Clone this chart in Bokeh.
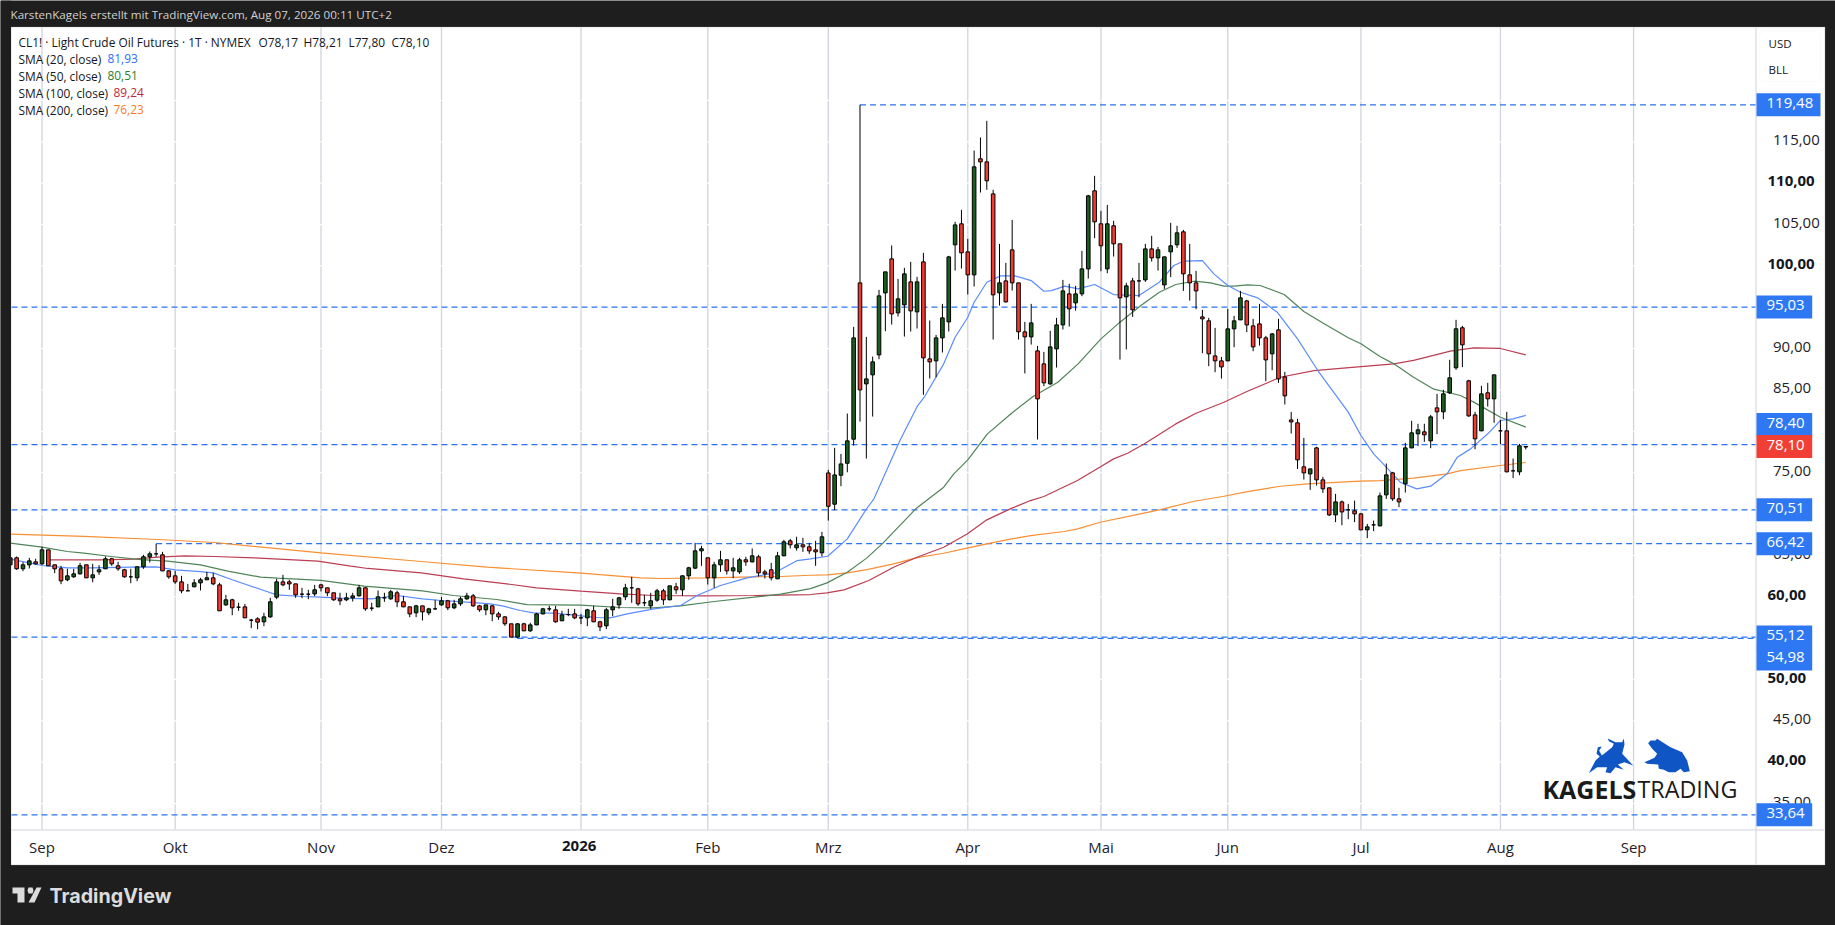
from bokeh.plotting import figure
from bokeh.models import (LinearAxis, FixedTicker, Label, BoxAnnotation, PolyAnnotation,
                          ColumnDataSource)
from bokeh.embed import file_html
from bokeh.resources import INLINE

# ---------- DATA ----------
bar_index = list(range(-5, 235))
opens = [63.86,64.71,63.38,63.86,64.22,63.98,65.67,63.86,63.38,62.05,62.41,62.77,63.86,62.29,63.01,63.38,64.59,63.74,63.26,62.41,
 62.29,63.62,64.83,65.19,65.07,63.13,62.53,61.80,60.72,61.20,61.68,62.05,62.29,61.44,59.02,59.63,58.74,58.78,57.17,57.33,
 56.97,57.57,59.95,61.80,61.80,61.56,60.31,60.31,60.35,61.44,61.08,60.48,59.75,59.63,59.87,60.11,61.08,58.62,58.78,59.87,
 59.75,60.48,59.39,58.78,58.06,58.90,58.06,58.54,59.02,59.51,58.66,59.14,59.75,60.11,58.90,58.42,58.90,57.93,57.57,56.73,
 55.12,56.73,55.88,56.60,57.93,58.54,58.42,57.09,57.85,57.93,57.45,57.45,58.30,56.97,56.48,58.42,59.02,59.99,61.08,60.96,
 59.27,58.90,59.59,60.72,59.63,61.20,60.84,62.53,63.46,65.55,64.71,62.29,63.86,64.47,63.13,63.01,64.47,64.22,64.83,63.01,
 63.26,62.17,64.95,66.76,65.92,66.28,66.04,65.67,65.31,
 74.97,71.19,74.69,76.14,79.05,97.95,85.74,86.83,89.24,96.74,100.85,94.32,95.29,98.07,94.44,100.49,88.76,88.52,91.30,93.23,
 102.55,105.09,101.70,98.92,112.95,112.58,108.71,96.74,98.19,101.94,97.95,92.03,91.42,89.73,88.16,85.74,89.97,92.87,96.62,95.53,
 96.62,99.64,109.08,
 105.09,99.64,104.85,102.67,96.26,98.19,98.19,98.31,102.06,100.97,97.71,101.70,102.55,104.12,98.92,97.95,93.84,93.36,89.12,88.52,
 88.52,92.39,93.48,95.77,92.75,92.99,91.30,89.37,92.27,86.58,81.38,
 81.03,75.71,74.86,78.00,74.13,73.17,69.90,71.47,70.51,70.39,70.02,68.09,68.69,68.57,72.32,74.98,71.84,73.65,78.00,79.70,
 79.94,78.85,82.84,82.36,84.66,87.68,92.52,86.11,81.99,80.06,84.66,83.93,80.06,80.06,75.22,75.10,78.17]
highs = [64.71,64.87,64.18,64.71,64.59,66.04,65.67,63.86,63.74,63.38,63.38,64.10,63.86,63.98,63.82,64.87,64.71,64.22,63.38,63.38,
 63.70,65.07,65.47,66.40,65.43,63.21,63.13,62.53,61.56,62.13,62.29,63.01,62.89,61.68,60.23,59.75,59.27,59.14,57.33,57.53,
 58.06,59.87,62.17,62.65,62.05,61.56,61.08,60.84,61.44,61.56,61.08,60.48,60.48,60.48,60.48,61.44,61.16,59.27,60.76,60.48,
 60.84,60.72,60.11,58.78,59.02,58.90,58.66,59.63,59.99,59.63,59.63,59.99,60.48,60.35,59.02,59.02,59.02,58.18,57.65,56.73,
 56.81,56.85,56.85,58.06,58.66,58.90,58.90,58.30,58.54,58.54,57.93,58.54,58.90,57.09,58.66,59.75,59.99,61.56,62.41,61.08,
 60.23,60.48,60.96,60.96,61.32,61.68,62.61,63.62,66.52,66.16,64.71,64.22,65.55,64.47,64.71,64.71,64.83,65.84,65.07,63.26,
 64.10,65.43,66.88,67.00,67.25,67.13,66.52,66.76,67.85,
 75.34,78.00,77.27,82.15,92.63,119.48,91.42,89.04,97.10,99.28,102.47,98.43,99.77,100.49,98.68,101.58,93.40,91.66,95.41,101.22,
 105.33,106.78,103.27,113.95,115.53,117.54,109.20,102.67,100.37,105.57,97.95,93.23,95.41,90.33,89.61,92.15,93.72,98.31,97.83,97.59,
 101.82,108.59,110.89,
 106.66,107.38,105.45,102.67,97.95,98.56,100.37,102.67,103.64,102.30,101.10,105.21,104.85,104.36,102.67,99.40,94.69,93.72,92.51,89.00,
 94.81,93.96,96.98,95.90,93.60,95.41,91.54,91.90,93.60,87.19,82.35,
 81.51,79.21,75.46,78.13,74.50,73.17,72.44,71.63,71.23,71.63,70.14,68.81,69.22,72.60,76.11,75.10,73.17,78.61,81.27,80.91,
 80.91,81.99,84.53,85.02,88.65,93.48,92.76,86.23,82.36,85.50,85.86,86.83,81.39,82.36,76.71,78.49,78.21]
lows = [63.86,63.26,63.09,63.42,63.86,63.86,63.74,62.85,61.52,61.88,62.29,62.69,62.25,61.76,62.65,63.34,63.74,63.13,62.29,61.64,
 61.88,63.38,64.14,64.83,63.09,62.17,61.56,60.43,60.68,61.16,60.76,62.05,61.40,58.30,58.90,57.77,58.30,57.45,56.20,56.08,
 56.44,57.45,59.71,61.28,60.84,59.87,59.83,59.71,60.07,60.64,60.07,59.51,58.98,59.47,59.43,60.03,58.30,58.30,58.74,59.39,
 59.63,58.74,58.74,57.53,57.53,57.13,57.77,58.42,58.90,58.38,58.50,58.90,59.63,58.78,58.18,57.77,57.05,57.21,56.48,55.12,
 54.98,55.84,55.76,56.56,57.85,58.26,56.85,57.09,57.65,57.29,56.69,56.44,56.93,55.84,56.08,57.65,58.54,59.59,59.27,58.90,
 58.86,58.54,59.39,59.02,59.59,60.35,60.11,62.05,63.34,63.74,61.48,61.08,63.01,62.69,62.25,62.77,63.74,64.14,62.45,62.21,
 61.97,62.13,64.91,65.84,65.59,65.43,65.19,63.74,64.87,
 69.21,70.46,73.36,75.05,78.28,81.18,76.71,81.79,88.72,92.11,92.91,93.88,91.46,92.07,92.43,84.41,86.38,86.54,89.53,92.07,
 99.44,99.68,96.54,97.51,108.87,109.20,91.10,95.21,95.57,97.02,91.10,87.00,90.49,79.01,85.46,85.62,87.71,92.31,92.67,94.60,
 96.34,98.47,103.35,
 99.36,99.12,101.13,88.68,89.89,93.84,96.22,98.07,100.53,99.44,97.22,98.64,102.18,96.98,95.81,94.77,89.45,87.87,87.15,86.38,
 88.48,90.17,93.44,91.99,89.69,90.37,86.06,87.39,85.86,83.24,79.73,
 75.46,74.17,72.92,73.45,72.56,69.74,69.02,68.65,69.38,69.02,68.05,67.08,67.93,68.53,71.84,71.59,70.83,72.60,77.96,78.21,
 78.73,77.96,79.66,81.47,84.53,87.44,87.76,81.75,77.84,80.02,83.00,81.03,78.45,75.06,74.34,74.70,77.80]
closes = [64.71,63.38,63.86,64.34,63.98,65.67,63.74,63.38,61.92,62.53,62.77,63.74,62.29,62.65,63.26,64.59,63.98,63.38,62.41,62.41,
 63.62,64.83,65.19,65.19,63.13,62.41,61.80,60.72,60.72,61.68,62.05,62.29,61.56,58.30,59.63,58.66,58.74,57.45,57.17,56.93,
 57.57,59.39,61.80,61.44,61.56,60.23,60.31,60.31,60.84,61.08,60.48,59.63,59.51,59.87,60.11,61.08,58.54,58.62,59.99,59.87,
 60.60,59.39,58.78,57.93,58.90,58.18,58.54,58.54,59.51,58.66,59.14,59.75,60.11,58.90,58.42,59.02,57.93,57.57,56.73,55.12,
 56.73,55.88,56.60,57.93,58.54,58.54,56.97,57.81,57.85,57.45,57.45,58.42,56.97,56.36,58.42,58.78,59.87,61.08,61.08,59.14,
 59.27,59.51,60.72,59.63,61.32,60.84,62.53,63.50,65.55,65.80,62.29,63.86,64.47,63.13,63.50,64.47,64.22,64.95,62.89,62.77,
 62.29,64.95,66.64,66.28,66.28,66.04,65.55,65.43,67.25,
 70.94,74.73,76.06,78.85,91.30,85.01,86.34,88.40,96.38,99.28,94.20,96.02,99.04,94.56,98.07,88.88,88.40,91.30,93.72,101.09,
 104.96,101.58,98.92,111.98,112.58,110.29,96.50,97.95,95.65,97.95,92.03,91.42,93.11,83.92,85.86,90.21,92.87,96.98,94.81,96.62,
 99.64,108.47,105.33,
 102.43,105.09,102.67,96.14,97.59,94.69,98.19,102.06,100.97,101.94,101.10,102.43,104.00,99.04,97.95,96.98,93.60,89.37,88.52,87.79,
 92.39,93.36,96.14,92.87,90.21,91.30,88.64,91.78,86.34,84.29,81.14,
 76.55,74.98,75.46,74.13,73.05,69.90,71.47,70.26,70.51,70.02,68.09,68.45,68.69,72.20,74.74,71.84,71.47,78.00,79.82,80.18,
 79.58,81.75,82.36,84.53,86.47,92.40,90.46,81.87,79.09,84.53,83.93,86.83,80.06,75.10,75.22,78.25,78.10]

sma20_x = [-5,0,4,8,14,18,21,25,27,30,35,37,41,44,47,52,56,60,63,67,70.7,72.8,75.4,77.5,80.7,85,87.5,89.6,92.3,96.5,100.7,103.3,107,111.2,115.4,119.1,121.2,123.9,127,130.1,131.2,135.3,138.1,139.2,142.2,144,146,147,149,151.2,153.4,156,158,159.2,161.3,163.4,166,169,173,176.2,178.5,180,183,184.8,187,189,191.7,194.8,198,201.2,206,208,210,212,214.2,216.8,219,221.6,223.2,225.3,228,230,232,234]
sma20 = [64.55,63.78,63.50,63.50,63.58,63.62,63.26,63.05,62.89,62.05,60.76,60.23,60.03,59.95,59.83,59.75,60.15,59.75,59.55,59.35,59.14,58.86,58.34,58.06,58.01,57.69,57.49,57.45,57.93,58.54,58.94,60.15,61.36,62.29,62.85,64.38,64.58,64.90,67.0,70.7,71.84,78.89,83.12,84.21,88.16,91.38,93.80,95.61,98.03,98.80,98.80,98.23,96.94,97.02,97.55,97.23,97.75,96.54,96.42,98.03,100.05,100.57,100.65,99.04,97.63,96.82,96.14,94.41,91.18,87.35,82.32,79.50,77.28,75.67,73.85,73.05,73.37,74.86,76.88,77.88,79.70,81.31,81.51,81.93]
sma50_x = [-5,0,4,6.6,10.9,15.6,19.8,25,29.3,34.5,37.2,44,50.8,60,64.9,71.7,76.5,85,91.2,96.5,100.7,106,112.3,116.5,121.2,123.8,127,130.1,132.5,137.8,142.2,143.8,146,148.3,149.1,153.1,156.3,160.2,163.4,167,170,173.3,176.2,178.8,181.7,184.3,186.4,188,190.1,192.1,195.9,199,202.2,206,208,211,213.2,216.3,219.5,223.7,225.8,230,234]
sma50 = [66.48,66.00,65.47,65.27,64.87,64.50,64.30,63.86,63.09,62.37,62.25,61.97,61.28,60.72,60.15,59.67,59.06,58.98,58.70,58.66,58.90,59.43,59.95,60.31,60.99,61.68,62.97,64.70,66.39,70.63,73.25,74.86,76.55,78.89,79.69,82.31,84.21,85.94,88.16,91.18,93.2,95.21,96.82,97.75,98.15,97.95,97.55,97.55,97.71,97.63,96.54,94.49,93.0,91.31,90.58,89.05,88.16,86.55,85.10,84.33,83.53,81.71,80.51]
sma100_x = [1,4,9.3,14.5,18.2,22.5,27.2,33.5,43.5,48.7,51.4,59.8,66.5,73.3,78,85,91.2,96.5,104.4,112.3,121.2,123.8,126.5,130.4,134.3,138,142.2,145.9,149,152.7,155.9,158,163.3,167,169,171.2,173.8,178.8,182,186.4,190.1,195.3,200.6,208,213.2,216.3,222.1,225.8,230,234]
sma100 = [64.47,64.47,64.47,64.55,64.79,64.95,64.87,64.71,64.30,63.70,63.42,62.89,62.17,61.56,61.08,60.68,60.35,60.15,60.11,60.15,60.27,60.47,60.83,61.96,63.57,64.78,65.99,67.60,69.30,70.63,71.63,72.12,74.05,75.74,76.67,77.35,78.48,80.90,82.19,83.52,84.85,86.54,87.35,87.83,88.16,88.57,89.69,90.10,90.02,89.24]
sma200_x = [-5,6.6,18.2,27.2,44,59.8,70.2,85,94.4,97.5,104.9,112.3,116.5,121.2,123.8,127,130.1,134.3,138,142.2,145.9,149,152.7,155.9,161.2,163.3,166.9,173.2,176.2,181.7,186.4,190.1,195.3,199.6,204.8,208,211.1,216.3,221.6,223.7,230,234]
sma200 = [67.57,67.29,66.92,66.56,65.31,64.26,63.58,62.85,62.29,62.21,62.29,62.41,62.45,62.60,62.65,62.89,63.29,63.98,64.74,65.26,65.87,66.39,66.96,67.40,67.89,68.21,69.01,70.02,70.50,71.55,72.15,72.72,73.36,73.65,73.85,73.97,74.05,74.34,74.86,75.26,75.87,76.23]

month_labels = ["Sep","Okt","Nov","Dez","Feb","Mrz","Apr","Mai","Jun","Jul","Aug","Sep"]
month_pos = [0,21,44,63,105,124,146,167,187,208,230,251]
year_label = "2026"
year_pos = 85
price_ticks_regular = [35,45,55,65,70,75,80,85,90,95,105,115,120]
price_ticks_bold = [40,50,60,100,110]
level_values = [119.48,95.03,78.40,70.51,66.42,55.12,54.98,33.64]
level_starts = [129,None,None,None,18,None,75,None]
tag_texts = ["119,48","95,03","78,40","70,51","66,42","55,12","54,98","33,64","78,10"]
tag_centres = [119.48,95.03,80.83,70.51,66.42,55.12,52.47,33.64,78.16]
tag_colors = ["#2e79f3"]*8 + ["#f23f36"]

# ---------- LAYOUT: the plot frame fills the page; scales keep the chart in place ----------
W, H = 1835, 925
PX_PER_BAR = 6.341
PX_PER_USD = 8.271
LABEL_LIFT = 0.22   # tick labels sit slightly above their grid lines
def price_fmt(v): return f"{v:.2f}".replace(".", ",")
def bar_at(px): return (px - 41.5) / PX_PER_BAR
def usd_at(py): return 119.48 - (py - 104.3) / PX_PER_USD
def lifted(v): return round(v + LABEL_LIFT, 2)

DARK = "#1e1e1e"
FONT = "Open Sans"
p = figure(width=W, height=H, x_range=(bar_at(0), bar_at(W)), y_range=(usd_at(H), usd_at(0)),
           x_axis_type=None, y_axis_type=None, toolbar_location=None, output_backend="svg",
           min_border=0, background_fill_color=DARK, border_fill_color=DARK, outline_line_color=None)

def canvas_box(l, r, t, b, **kw):
    kw.setdefault("level", "underlay")
    kw.setdefault("line_color", None)
    return BoxAnnotation(left=l, right=r, top=t, bottom=b, left_units="canvas", right_units="canvas",
                         top_units="canvas", bottom_units="canvas", **kw)

# white panel, axis separators
p.add_layout(canvas_box(10.5, 1824.5, 26.5, 864.5, fill_color="white", fill_alpha=1, line_color="#8c8c8c", line_width=1))
p.add_layout(canvas_box(1755, 1756, 27, 864, fill_color="#d1d4dc", fill_alpha=1))
p.add_layout(canvas_box(11, 1824, 829, 830, fill_color="#d1d4dc", fill_alpha=1))

# grid lines
xg_ticks = sorted(month_pos + [year_pos])
yg_ticks = sorted(price_ticks_regular + price_ticks_bold)
p.segment(x0=xg_ticks, x1=xg_ticks, y0=[usd_at(829)]*len(xg_ticks), y1=[usd_at(27)]*len(xg_ticks),
          line_color="#d1d4dc", line_width=1.3)
p.segment(x0=[bar_at(11)]*len(yg_ticks), x1=[bar_at(1755)]*len(yg_ticks), y0=yg_ticks, y1=yg_ticks,
          line_color="#ffffff", line_width=1.2)

# axes
ax_r = LinearAxis(fixed_location=bar_at(1755.5), ticker=FixedTicker(ticks=[lifted(t) for t in price_ticks_regular]),
                  major_label_overrides={lifted(t): price_fmt(t) for t in price_ticks_regular},
                  major_tick_line_color=None, minor_tick_line_color=None, axis_line_color=None,
                  major_label_standoff=11, major_label_text_font=FONT, major_label_text_font_size="15px",
                  major_label_text_color="#1f222a")
p.add_layout(ax_r, "right")
ax_b = LinearAxis(fixed_location=usd_at(829.5), ticker=FixedTicker(ticks=month_pos),
                  major_label_overrides={t: l for t, l in zip(month_pos, month_labels)},
                  major_tick_line_color=None, minor_tick_line_color=None, axis_line_color=None,
                  major_label_standoff=1, major_label_text_font=FONT, major_label_text_font_size="15px",
                  major_label_text_color="#1f222a")
p.add_layout(ax_b, "below")

# level lines
starts = [bar_at(11) if s is None else s for s in level_starts]
p.segment(x0=starts, x1=[bar_at(1755)]*len(level_values), y0=level_values, y1=level_values,
          line_color="#2a74f0", line_width=1.3, line_dash="6 4")

# moving averages
p.line(sma200_x, sma200, line_color="#f98f33", line_width=1.2)
p.line(sma100_x, sma100, line_color="#bb3e52", line_width=1.2)
p.line(sma50_x, sma50, line_color="#4f8558", line_width=1.2)
p.line(sma20_x, sma20, line_color="#5b8cff", line_width=1.2)

# candles
src = ColumnDataSource(dict(
    x=bar_index, h=highs, l=lows,
    top=[max(a, b) for a, b in zip(opens, closes)],
    bottom=[min(a, b) for a, b in zip(opens, closes)],
    color=["#1b5e20" if c >= o else "#f23b30" for o, c in zip(opens, closes)]))
p.segment(x0="x", x1="x", y0="l", y1="h", source=src, line_color="black", line_width=1)
p.vbar(x="x", width=3.6/PX_PER_BAR, top="top", bottom="bottom", source=src, fill_color="color", line_color="black", line_width=1)

# cover the bar cut by the left edge of the panel
p.add_layout(canvas_box(0, 10.4, 0, 925, fill_color=DARK, fill_alpha=1, level="guide"))

# helpers for text
def txt(t, rx, ry, size, color="#131722", style="normal", font=FONT):
    p.add_layout(Label(x=rx, y=ry, x_units="canvas", y_units="canvas", text=t, text_font=font, text_font_size=f"{size}px",
                       text_color=color, text_font_style=style, text_baseline="middle", text_align="left"))

# bold axis labels
for t in price_ticks_bold:
    p.add_layout(Label(x=1767, y=lifted(t), x_units="canvas", y_units="data", text=price_fmt(t), text_font=FONT,
                       text_font_size="15px", text_font_style="bold", text_color="#131722", text_baseline="middle"))
x2026 = 41.5 + year_pos*PX_PER_BAR
txt(year_label, x2026-19, 845, 15, style="bold")

# price tags
for t, c, col in zip(tag_texts, tag_centres, tag_colors):
    right = 1820 if t == "119,48" else 1811.7
    half = 11.5/PX_PER_USD
    p.add_layout(BoxAnnotation(left=1756, right=right, top=c+half, bottom=c-half, left_units="canvas", right_units="canvas",
                               top_units="data", bottom_units="data", fill_color=col, fill_alpha=1, line_color=None, level="annotation"))
    p.add_layout(Label(x=1766, y=lifted(c), x_units="canvas", y_units="data", text=t, text_font=FONT, text_font_size="15px",
                       text_color="white", text_baseline="middle"))

# top bar and legend
txt("KarstenKagels erstellt mit TradingView.com, Aug 07, 2026 00:11 UTC+2", 10, 13.5, 11.65, "#d0d0d0")
txt("CL1! · Light Crude Oil Futures · 1T · NYMEX", 18, 41, 11.9)
for s, rx in zip(["O78,17","H78,21","L77,80","C78,10"], [258,303,348,391]):
    txt(s, rx, 41, 11.9)
sma_rows = [("SMA (20, close)", "81,93", "#2f6df6", 107, 58), ("SMA (50, close)", "80,51", "#2e7d32", 107, 75),
            ("SMA (100, close)", "89,24", "#c2283a", 113, 92), ("SMA (200, close)", "76,23", "#f57c1f", 113, 109)]
for name, val, col, vx, ry in sma_rows:
    txt(name, 18, ry, 11.9)
    txt(val, vx, ry, 11.9, col)

# currency box
p.add_layout(canvas_box(1759, 1820, 31, 81, fill_color="white", fill_alpha=1, line_color="#eeeeee", line_width=1, border_radius=4, level="annotation"))
txt("USD", 1768, 42.5, 11.5)
txt("BLL", 1768, 68.5, 11.5)

# watermark
txt("KAGELS", 1542, 788, 25, "#1a1a1a", "bold")
txt("TRADING", 1637, 788, 23.3, "#1a1a1a")
def zoom_poly(pts, color):
    xs = [1500 + a/3 for a, b in pts]
    ys = [700 + b/3 for a, b in pts]
    p.add_layout(PolyAnnotation(xs=xs, ys=ys, xs_units="canvas", ys_units="canvas", fill_color=color, fill_alpha=1, line_color=None))
zoom_poly([(265,218),(285,180),(298,168),(288,160),(292,140),(304,138),(296,150),(304,165),(335,140),(340,130),(325,122),(322,114),(345,125),(365,125),(370,114),(372,132),(365,160),(398,195),(372,185),(352,192),(370,208),(345,200),(330,218),(315,215),(320,200),(290,200)], "#0f56c4")
zoom_poly([(432,185),(462,172),(470,160),(455,145),(443,128),(450,120),(465,120),(470,115),(478,120),(510,140),(545,155),(560,180),(568,212),(550,215),(540,205),(525,215),(505,215),(490,208),(475,205),(473,192),(440,190)], "#0f56c4")

# TradingView footer
txt("TradingView", 49, 895, 19.7, "#dcdcdc", "bold", "Inter")
def px_poly(pts, color):
    p.add_layout(PolyAnnotation(xs=[a for a, b in pts], ys=[b for a, b in pts], xs_units="canvas", ys_units="canvas",
                                fill_color=color, fill_alpha=1, line_color=None))
px_poly([(12,887),(24,887),(24,902),(17,902),(17,893),(12,893)], "#dcdcdc")
px_poly([(36,887),(41,887),(34,902),(28,902)], "#dcdcdc")
px_poly([(28,887),(32,887),(33,890),(32,893),(28,893),(27,890)], "#dcdcdc")

open("out.html", "w").write(file_html(p, INLINE))
